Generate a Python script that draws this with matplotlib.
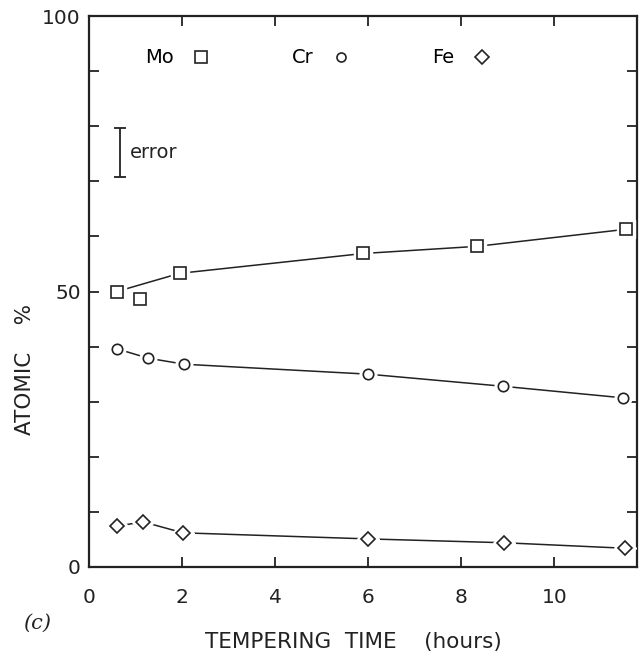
import matplotlib.pyplot as plt
from matplotlib.lines import Line2D

# Data (tempering time in hours, atomic %)
mo_time = [0.6, 1.1, 1.95, 5.9, 8.35, 11.55]
mo_atomic = [50.0, 48.6, 53.3, 56.9, 58.2, 61.3]
mo_curve_idx = [0, 2, 3, 4, 5]  # the drawn curve skips the 1.1 h point

cr_time = [0.6, 1.27, 2.05, 6.0, 8.9, 11.48]
cr_atomic = [39.6, 37.9, 36.8, 35.0, 32.8, 30.7]

fe_time = [0.6, 1.16, 2.02, 6.0, 8.93, 11.53]
fe_atomic = [7.4, 8.2, 6.2, 5.1, 4.4, 3.4]

error_x = 0.67
error_center = 75.2
error_half = 4.4

x_ticks = [0, 2, 4, 6, 8, 10]
y_ticks = list(range(0, 101, 10))
y_labels = ["0" if v == 0 else "50" if v == 50 else "100" if v == 100 else "" for v in y_ticks]

plt.rcParams["font.family"] = "DejaVu Sans"

fig = plt.figure(figsize=(6.4, 6.59), dpi=100)
ax = fig.add_axes([89 / 640, 1 - 567 / 659, (637 - 89) / 640, (567 - 16) / 659])


def draw_series(ax, x, y, marker, ms, idx=None):
    if idx is None:
        idx = range(len(x))
    ax.plot([x[i] for i in idx], [y[i] for i in idx], color="#222222", lw=1.1, zorder=2)
    # white halo gives the small gap between line and marker
    ax.plot(x, y, ls="none", marker=marker, ms=ms + 4.5, mfc="white", mec="white", zorder=3)
    ax.plot(x, y, ls="none", marker=marker, ms=ms, mfc="white", mec="#222222", mew=1.2, zorder=4)


draw_series(ax, mo_time, mo_atomic, "s", 8.0, mo_curve_idx)
draw_series(ax, cr_time, cr_atomic, "o", 7.5)
draw_series(ax, fe_time, fe_atomic, "D", 6.8)

# error indicator
ax.errorbar([error_x], [error_center], yerr=[error_half], fmt="none",
            ecolor="#222222", elinewidth=1.3, capsize=4, capthick=1.3)
ax.text(error_x + 0.2, error_center, "error", fontsize=14, va="center", ha="left", color="#222222")

handles = [
    Line2D([], [], ls="none", marker="s", ms=8.0, mfc="white", mec="#222222", mew=1.2),
    Line2D([], [], ls="none", marker="o", ms=6.5, mfc="white", mec="#222222", mew=1.2),
    Line2D([], [], ls="none", marker="D", ms=7.0, mfc="white", mec="#222222", mew=1.2),
]
ax.legend(handles, ["Mo", "Cr", "Fe"], ncol=3, markerfirst=False, frameon=False,
          loc="upper left", bbox_to_anchor=(0.07, 0.973), fontsize=14,
          handlelength=0.8, handletextpad=1.0, columnspacing=4.3)

ax.set_xlim(0, 11.78)
ax.set_ylim(0, 100)
ax.set_xticks(x_ticks)
ax.set_yticks(y_ticks)
ax.set_yticklabels(y_labels)
ax.tick_params(axis="x", direction="in", length=7, width=1.3, top=True, pad=15,
               labelsize=14.5, colors="#222222")
ax.tick_params(axis="y", direction="in", length=7, width=1.3, right=True, pad=6,
               labelsize=14.5, colors="#222222")
for s in ax.spines.values():
    s.set_linewidth(1.6)
    s.set_color("#222222")

fig.text(353 / 640, 1 - 642 / 659, "TEMPERING  TIME    (hours)", fontsize=15.5,
         ha="center", va="center", color="#222222")
fig.text(25 / 640, 1 - 369 / 659, "ATOMIC    %", fontsize=15.5, rotation=90,
         ha="center", va="center", color="#222222")
fig.text(37 / 640, 1 - 623 / 659, "(c)", fontsize=15, family="DejaVu Serif",
         style="italic", ha="center", va="center", color="#222222")

fig.savefig("out.png", dpi=100)
